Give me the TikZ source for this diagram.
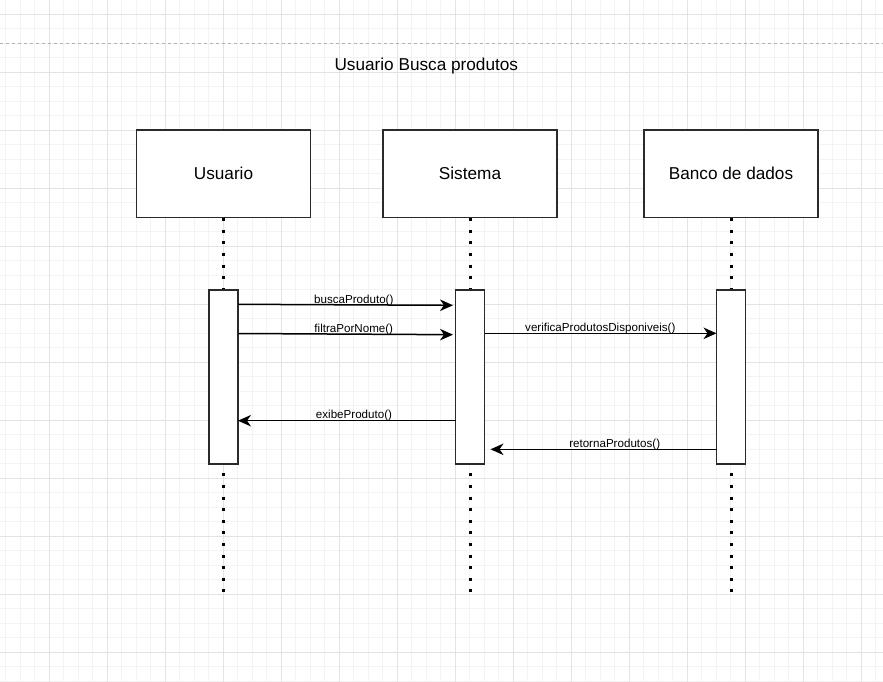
\documentclass[tikz,border=0pt]{standalone}
\usepackage{fontspec}
\setmainfont{Liberation Sans}
\usetikzlibrary{arrows.meta}
\definecolor{minorgrid}{HTML}{F3F3F3}
\definecolor{majorgrid}{HTML}{E3E3E3}
\definecolor{boxline}{HTML}{2A2A2A}
\tikzset{
  lifebox/.style={draw=boxline, line width=1.6pt, fill=white, minimum width=174pt, minimum height=87pt, inner sep=0pt, font=\fontsize{17.2pt}{20pt}\selectfont},
  actbox/.style={draw=boxline, line width=1.6pt, fill=white, minimum width=29pt, minimum height=174pt, inner sep=0pt},
  lifeline/.style={line width=3pt, dash pattern=on 3pt off 8.6pt},
  msg/.style={line width=1.5pt, -{Stealth[length=13pt,width=11.5pt,inset=4pt]}},
  msglabel/.style={anchor=base, inner sep=0pt, font=\fontsize{11.6pt}{13pt}\selectfont},
}
\begin{document}
\begin{tikzpicture}[x=1pt,y=-1pt]
\useasboundingbox (0,0) rectangle (883,682);
\fill[white] (0,0) rectangle (883,682);
% grid
\foreach \i in {0,...,60} {
  \draw[minorgrid, line width=1pt] (5.8+14.5*\i,0) -- (5.8+14.5*\i,682);
}
\foreach \i in {-1,...,46} {
  \draw[minorgrid, line width=1pt] (0,14.3+14.5*\i) -- (883,14.3+14.5*\i);
}
\foreach \i in {0,...,15} {
  \draw[majorgrid, line width=1pt] (49.3+58*\i,0) -- (49.3+58*\i,682);
}
\foreach \i in {0,...,11} {
  \draw[majorgrid, line width=1pt] (0,14.3+58*\i) -- (883,14.3+58*\i);
}
\draw[gray!60, line width=1pt, dash pattern=on 3pt off 3pt] (0,43.3) -- (883,43.3);

% title
\node[anchor=base, inner sep=0pt, font=\fontsize{17.2pt}{20pt}\selectfont] (title) at (426.3,70.7) {Usuario Busca produtos};

% lifeline heads
\node[lifebox] (usr) at (223.5,173.8) {Usuario};
\node[lifebox] (sis) at (470,173.8) {Sistema};
\node[lifebox] (bd) at (731,173.8) {Banco de dados};

% lifeline ends
\coordinate (usrend) at (223.5,595);
\coordinate (sisend) at (470,595);
\coordinate (bdend) at (731,595);
\draw[lifeline] (usr.south) -- (usrend);
\draw[lifeline] (sis.south) -- (sisend);
\draw[lifeline] (bd.south) -- (bdend);

% activations
\node[actbox] (a1) at (223.5,377) {};
\node[actbox] (a2) at (470,377) {};
\node[actbox] (a3) at (731,377) {};

% message end points
\coordinate (m1s) at (238,304.3);
\coordinate (m1e) at (453,305.3);
\coordinate (m2s) at (238,333.5);
\coordinate (m2e) at (453,334.7);
\coordinate (m3s) at (484.5,333.3);
\coordinate (m3e) at (716.5,333.3);
\coordinate (m4s) at (455.5,420.7);
\coordinate (m4e) at (238,420.7);
\coordinate (m5s) at (716.5,449.3);
\coordinate (m5e) at (490.5,449.3);

\draw[msg] (m1s) -- (m1e);
\draw[msg] (m2s) -- (m2e);
\draw[msg] (m3s) -- (m3e);
\draw[msg] (m4s) -- (m4e);
\draw[msg] (m5s) -- (m5e);

\node[msglabel] (l1) at (353.8,303) {buscaProduto()};
\node[msglabel] (l2) at (353.8,332.3) {filtraPorNome()};
\node[msglabel] (l3) at (600.3,331.7) {verificaProdutosDisponiveis()};
\node[msglabel] (l4) at (354,418.7) {exibeProduto()};
\node[msglabel] (l5) at (614.7,447.3) {retornaProdutos()};
\end{tikzpicture}
\end{document}
